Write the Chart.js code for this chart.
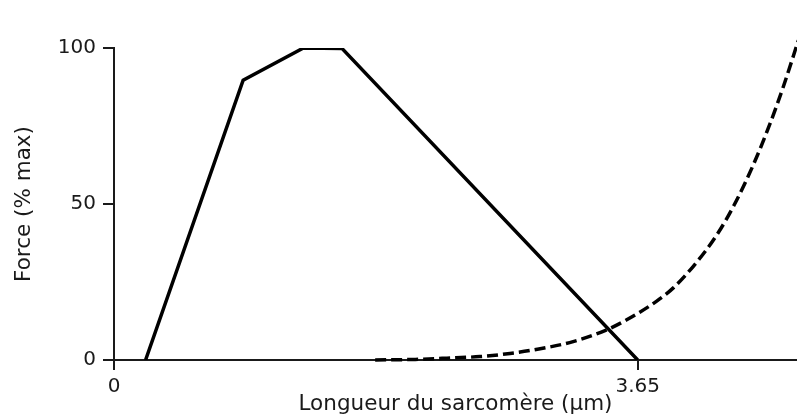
<!DOCTYPE html>
<html><head><meta charset="utf-8">
<script src="https://cdn.jsdelivr.net/npm/chart.js@4"></script>
<style>html,body{margin:0;padding:0;background:#fff}</style>
</head><body>
<canvas id="c" width="797" height="419"></canvas>
<script>
// Solid curve: active force vs sarcomere length
const activeX = [0.22, 0.90, 1.32, 1.59, 3.65];
const activeY = [0, 89.7, 100, 99.8, 0];
// Dashed curve: passive force
const passiveX = [1.82, 2.10, 2.32, 2.55, 2.76, 2.97, 3.20, 3.43, 3.57, 3.78, 3.90, 4.06, 4.20, 4.32, 4.455, 4.57, 4.664, 4.77];
const passiveY = [0, 0.2, 0.6, 1.1, 2.1, 3.6, 5.9, 9.6, 12.8, 18.8, 23.2, 31.3, 40.0, 49.5, 62.5, 75.5, 87.5, 102.5];
// Ticks
const xTickValues = [0, 3.65];
const xTickLabels = ['0', '3.65'];
const yTickValues = [0, 50, 100];
const yTickLabels = ['0', '50', '100'];
const xTitle = 'Longueur du sarcomère (µm)';
const yTitle = 'Force (% max)';

const FONT = "'DejaVu Sans', Verdana, sans-serif";
const INK = '#1a1a1a';

const toPts = (xs, ys) => xs.map((x, i) => ({x, y: ys[i]}));

new Chart(document.getElementById('c'), {
  type: 'line',
  data: {
    datasets: [
      {
        data: toPts(activeX, activeY),
        borderColor: '#000', borderWidth: 3.5, tension: 0,
        borderJoinStyle: 'miter', pointRadius: 0, fill: false
      },
      {
        data: toPts(passiveX, passiveY),
        borderColor: '#000', borderWidth: 3.5, borderDash: [11, 5],
        cubicInterpolationMode: 'monotone', pointRadius: 0, fill: false,
        clip: false
      }
    ]
  },
  options: {
    responsive: false,
    animation: false,
    events: [],
    layout: {padding: {top: 48, right: 0, left: 0, bottom: 0}},
    plugins: {legend: {display: false}, tooltip: {enabled: false}},
    scales: {
      x: {
        type: 'linear', min: 0, max: 4.76,
        afterBuildTicks: s => { s.ticks = xTickValues.map(v => ({value: v})); },
        afterFit: s => { s.height = 59; },
        ticks: {
          callback: (v) => { const i = xTickValues.indexOf(v); return i >= 0 ? xTickLabels[i] : ''; },
          font: {family: FONT, size: 20}, color: INK, padding: 5, maxRotation: 0, autoSkip: false
        },
        grid: {drawOnChartArea: false, drawTicks: true, tickLength: 10, color: INK, lineWidth: 2},
        border: {display: true, color: INK, width: 2},
        title: {display: true, text: xTitle, font: {family: FONT, size: 21.5}, color: INK, padding: {top: 0, bottom: 2}}
      },
      y: {
        type: 'linear', min: 0, max: 100,
        afterBuildTicks: s => { s.ticks = yTickValues.map(v => ({value: v})); },
        afterFit: s => { s.width = 114; },
        ticks: {
          callback: (v) => { const i = yTickValues.indexOf(v); return i >= 0 ? yTickLabels[i] : ''; },
          font: {family: FONT, size: 20}, color: INK, padding: 7, autoSkip: false
        },
        grid: {drawOnChartArea: false, drawTicks: true, tickLength: 11, color: INK, lineWidth: 2},
        border: {display: true, color: INK, width: 2},
        title: {display: true, text: yTitle, font: {family: FONT, size: 21.5}, color: INK, padding: {top: 12, bottom: 0}}
      }
    }
  }
});
</script>
</body></html>
